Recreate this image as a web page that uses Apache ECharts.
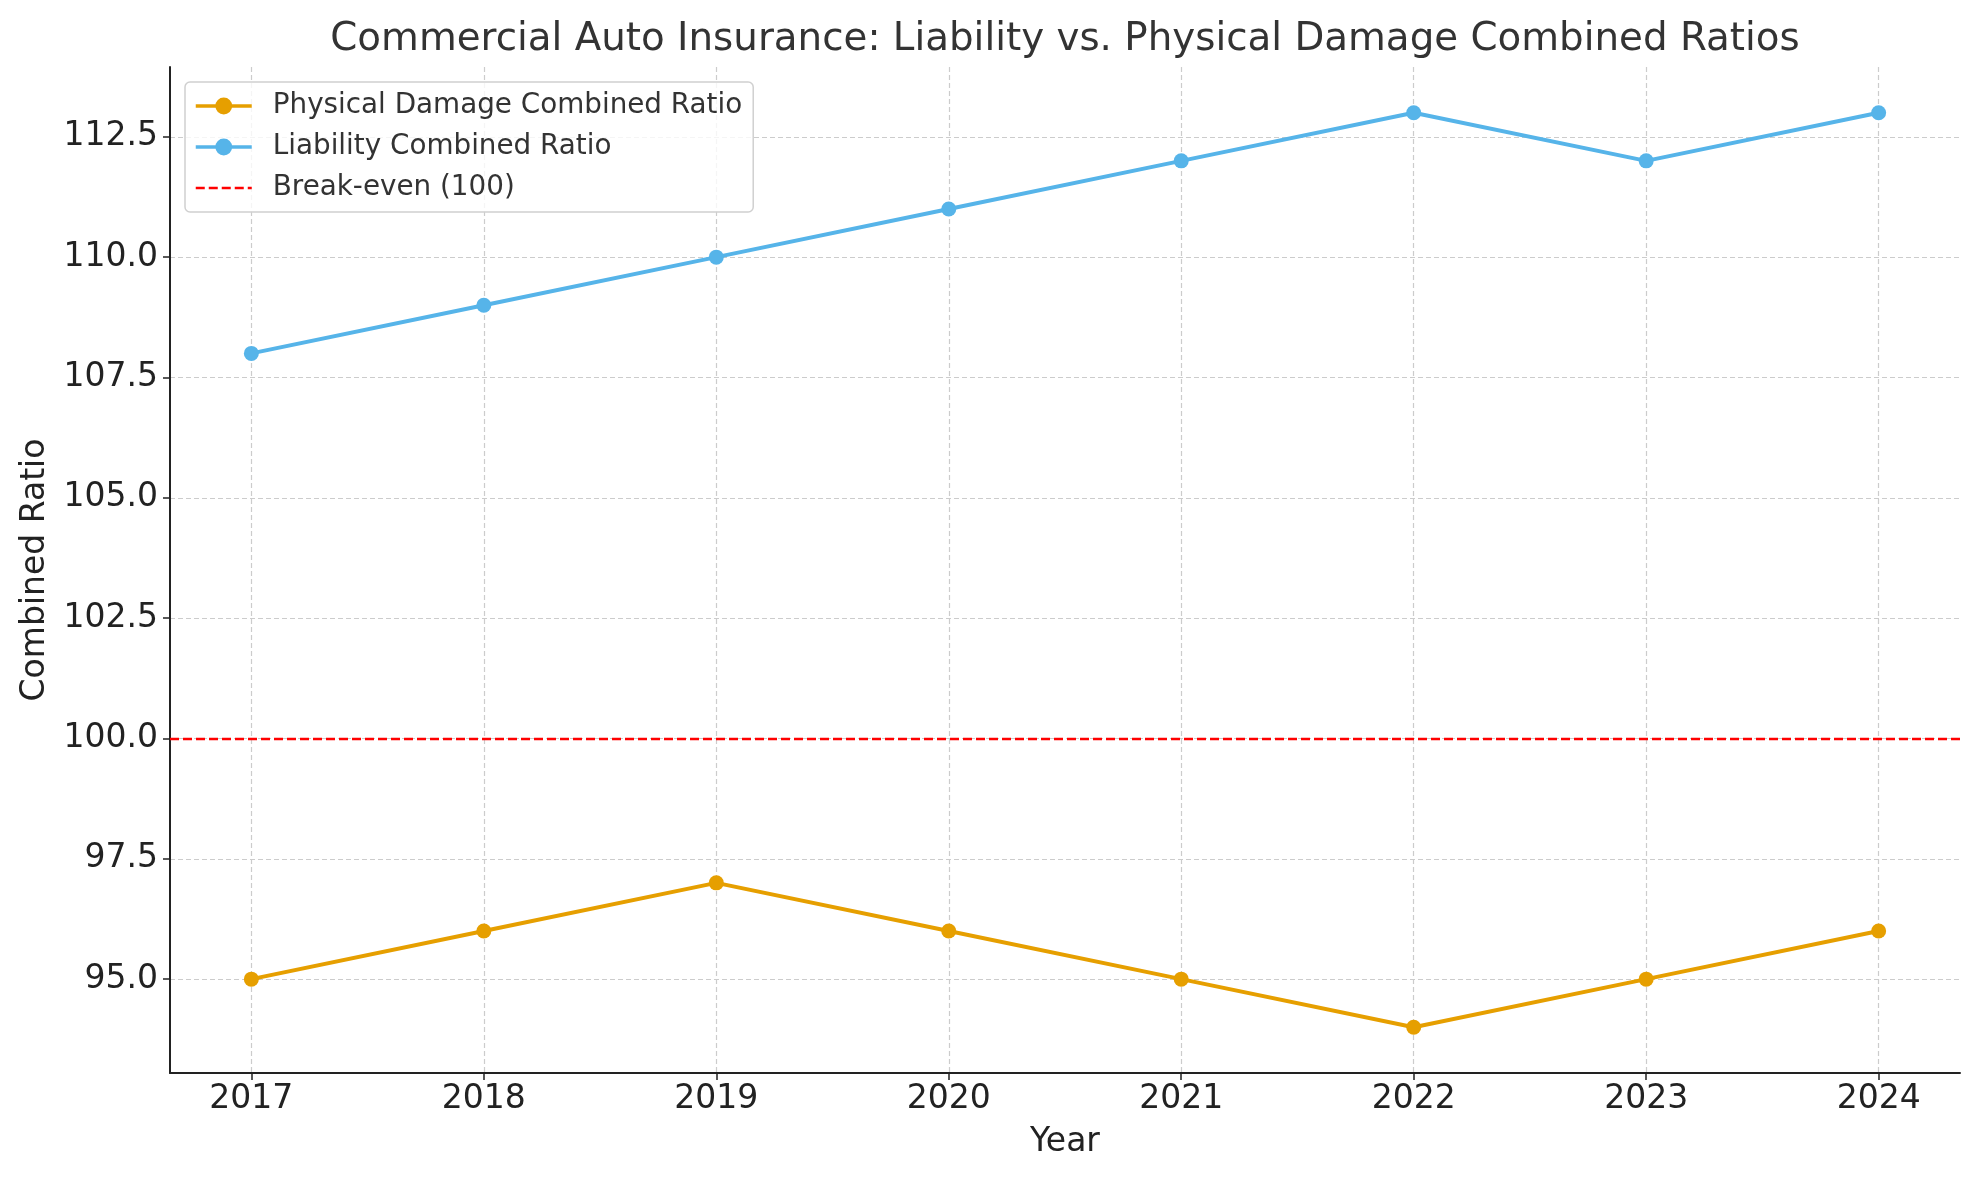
<!DOCTYPE html>
<html><head><meta charset="utf-8">
<script src="https://cdn.jsdelivr.net/npm/echarts@6/dist/echarts.min.js"></script>
<style>html,body{margin:0;padding:0;background:#fff}#c{width:1979px;height:1180px}</style>
</head><body><div id="c"></div>
<script>
const years = [2017, 2018, 2019, 2020, 2021, 2022, 2023, 2024];
const physicalDamage = [95, 96, 97, 96, 95, 94, 95, 96];
const liability = [108, 109, 110, 111, 112, 113, 112, 113];
const breakEven = 100;
const yTicks = [95, 97.5, 100, 102.5, 105, 107.5, 110, 112.5];

const font = 'DejaVu Sans';
const chart = echarts.init(document.getElementById('c'));
const pair = arr => arr.map((v, i) => [years[i], v]);
chart.setOption({
  animation: false,
  backgroundColor: '#fff',
  textStyle: { fontFamily: font },
  title: {
    text: 'Commercial Auto Insurance: Liability vs. Physical Damage Combined Ratios',
    left: 1060, top: 15, textAlign: 'center',
    textStyle: { fontFamily: font, fontSize: 38.8, fontWeight: 'normal', color: '#333' }
  },
  legend: {
    left: 185, top: 82, orient: 'vertical',
    padding: [10, 11, 10, 9], itemGap: 13, itemWidth: 56, itemHeight: 21,
    backgroundColor: 'rgba(255,255,255,0.8)', borderColor: '#d0d0d0', borderWidth: 1.5, borderRadius: 5,
    textStyle: { fontFamily: font, fontSize: 27.8, color: '#333', padding: [0, 0, 0, 16] },
    data: [
      { name: 'Physical Damage Combined Ratio', lineStyle: { width: 3.5 } },
      { name: 'Liability Combined Ratio', lineStyle: { width: 3.5 } },
      { name: 'Break-even (100)', itemStyle: { opacity: 0 }, lineStyle: { width: 2.5 } }
    ]
  },
  grid: { left: 170, right: 19, top: 67, bottom: 107 },
  xAxis: {
    type: 'value', min: 2016.65, max: 2024.35,
    name: 'Year', nameLocation: 'middle', nameGap: 53,
    nameTextStyle: { fontFamily: font, fontSize: 33, color: '#222' },
    axisLine: { show: true, onZero: false, lineStyle: { color: '#222', width: 2 } },
    axisTick: { show: true, customValues: years, length: 7, lineStyle: { color: '#222', width: 1.5 } },
    axisLabel: { customValues: years, fontFamily: font, fontSize: 33, color: '#222', margin: 10, formatter: v => String(v) },
    splitLine: { show: true, lineStyle: { color: '#cccccc', type: [5, 3], width: 1.2 } }
  },
  yAxis: {
    type: 'value', min: 93.05, max: 113.95,
    name: 'Combined Ratio', nameLocation: 'middle', nameGap: 118,
    nameTextStyle: { fontFamily: font, fontSize: 33, color: '#222' },
    axisLine: { show: true, lineStyle: { color: '#222', width: 2 } },
    axisTick: { show: true, customValues: yTicks, length: 7, lineStyle: { color: '#222', width: 1.5 } },
    axisLabel: { customValues: yTicks, fontFamily: font, fontSize: 33, color: '#222', margin: 12, formatter: v => v.toFixed(1) },
    splitLine: { show: true, lineStyle: { color: '#cccccc', type: [5, 3], width: 1.2 } }
  },
  series: [
    {
      name: 'Physical Damage Combined Ratio', type: 'line', data: pair(physicalDamage),
      symbol: 'circle', symbolSize: 15, color: '#E69F00',
      lineStyle: { width: 4, color: '#E69F00' }, itemStyle: { color: '#E69F00' }, z: 3
    },
    {
      name: 'Liability Combined Ratio', type: 'line', data: pair(liability),
      symbol: 'circle', symbolSize: 15, color: '#56B4E9',
      lineStyle: { width: 4, color: '#56B4E9' }, itemStyle: { color: '#56B4E9' }, z: 3
    },
    {
      name: 'Break-even (100)', type: 'line', data: [], symbol: 'none', color: '#ff0000',
      lineStyle: { type: [9, 4], width: 2.4, color: '#ff0000' },
      markLine: {
        silent: true, symbol: 'none', label: { show: false },
        lineStyle: { type: [9, 4], width: 2.4, color: '#ff0000' },
        data: [{ yAxis: breakEven }]
      }
    }
  ]
});
</script></body></html>
